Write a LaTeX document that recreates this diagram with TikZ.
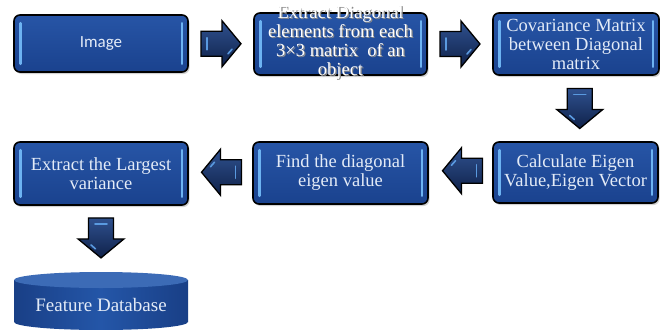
\documentclass[tikz,border=0pt]{standalone}
\usepackage{fontspec}
\setmainfont{Liberation Serif}
\newfontfamily\carlito{Carlito}
\usetikzlibrary{calc,shadows}

\definecolor{boxblueT}{HTML}{2755A6}
\definecolor{boxblueB}{HTML}{1A428E}
\definecolor{shine}{HTML}{6DB3F2}
\definecolor{navyT}{HTML}{2F518F}
\definecolor{navyB}{HTML}{0F2149}
\definecolor{arrowglint}{HTML}{5A9AE0}
\definecolor{labelcol}{HTML}{E3EBF7}
\definecolor{dbside}{HTML}{193F86}
\definecolor{dbmid}{HTML}{2456A8}
\definecolor{dbcap}{HTML}{3C6BB6}
\definecolor{shadowgray}{HTML}{8A8A8A}

% white caption with a soft grey shadow
\newcommand\shtxt[1]{\leavevmode\rlap{\kern1.2pt\raisebox{-1.2pt}{\textcolor{shadowgray}{#1}}}\textcolor{white}{#1}}

\tikzset{
  stepbox/.style={draw=black, line width=1.6pt, rounded corners=6pt,
    top color=boxblueT, bottom color=boxblueB,
    drop shadow={shadow xshift=1.5pt, shadow yshift=-2pt, opacity=0.35},
    text=labelcol, align=center, inner sep=0pt,
    font=\fontsize{18.5}{19}\selectfont},
  bar/.style={shine, line width=2.6pt, line cap=round},
  arrowbody/.style={draw=black, line width=1.3pt, line join=miter,
    top color=navyT, bottom color=navyB},
  arrowshine/.style={arrowglint, line width=1.6pt, line cap=round},
  blockarrow/.pic={
    \path[arrowbody] (-20,-12.5) -- (1,-12.5) -- (1,-23) -- (20,0)
      -- (1,23) -- (1,12.5) -- (-20,12.5) -- cycle;
    \draw[arrowshine] (-14,-6) -- (-14,6);
    \draw[arrowshine] (7,10) -- (11,5.5);
  }
}

\begin{document}
\begin{tikzpicture}[x=1pt,y=-1pt]
  \useasboundingbox[fill=white] (0,0) rectangle (660,329);

  % process boxes
  \node[stepbox, minimum width=174pt, minimum height=57pt, font=\carlito\fontsize{17}{19}\selectfont]
    (b1) at (101,43.5) {Image};
  \node[stepbox, minimum width=173pt, minimum height=62pt] (b2) at (340.5,44) {};
  \node[stepbox, minimum width=166pt, minimum height=62pt] (b3) at (576,44)
    {Covariance Matrix\\between Diagonal\\matrix};
  \node[stepbox, minimum width=165pt, minimum height=61pt] (b6) at (575.5,172.5)
    {Calculate Eigen\\Value,Eigen Vector};
  \node[stepbox, minimum width=175pt, minimum height=62pt] (b5) at (340.5,173)
    {Find the diagonal\\eigen value};
  \node[stepbox, minimum width=174pt, minimum height=63pt] (b4) at (101,173.5)
    {Extract the Largest\\variance};

  % light edge highlights inside the boxes
  \foreach \b in {b1,b2,b3,b4,b5,b6} {
    \draw[bar] ([shift={(7pt,-9pt)}]\b.north west) -- ([shift={(7pt,9pt)}]\b.south west);
    \draw[bar] ([shift={(-7pt,-9pt)}]\b.north east) -- ([shift={(-7pt,9pt)}]\b.south east);
  }

  % caption of the second box, taller than the box itself
  \node[align=center, font=\fontsize{18.5}{19}\selectfont, inner sep=0pt] (b2t) at (340.5,43)
    {\shtxt{Extract Diagonal}\\\shtxt{elements from each}\\\shtxt{3×3 matrix\ \ of an}\\\shtxt{object}};

  % feature database cylinder
  \path[left color=dbside, right color=dbside, middle color=dbmid]
    (14,280) -- (14,322) arc[start angle=180, end angle=360, x radius=87pt, y radius=8pt]
    -- (188,280) -- cycle;
  \fill[dbcap] (101,280) ellipse[x radius=87pt, y radius=8pt];
  \coordinate (dbtop) at (101,272);
  \node[text=labelcol, font=\fontsize{19}{19}\selectfont, inner sep=0pt] (db) at (101,305)
    {Feature Database};

  % block arrows between the steps
  \pic (a1) at ($(b1.east)!0.5!(b2.west)$) {blockarrow};
  \pic (a2) at ($(b2.east)!0.5!(b3.west)$) {blockarrow};
  \pic[rotate=-90] (a3) at ($(b3.south)!0.5!(b6.north)+(4,0)$) {blockarrow};
  \pic[rotate=180] (a4) at ($(b6.west)!0.5!(b5.east)+(2,-2)$) {blockarrow};
  \pic[rotate=180] (a5) at ($(b5.west)!0.5!(b4.east)+(1,-1)$) {blockarrow};
  \pic[rotate=-90] (a6) at ($(b4.south)!0.5!(dbtop)+(0,-1)$) {blockarrow};
\end{tikzpicture}
\end{document}
